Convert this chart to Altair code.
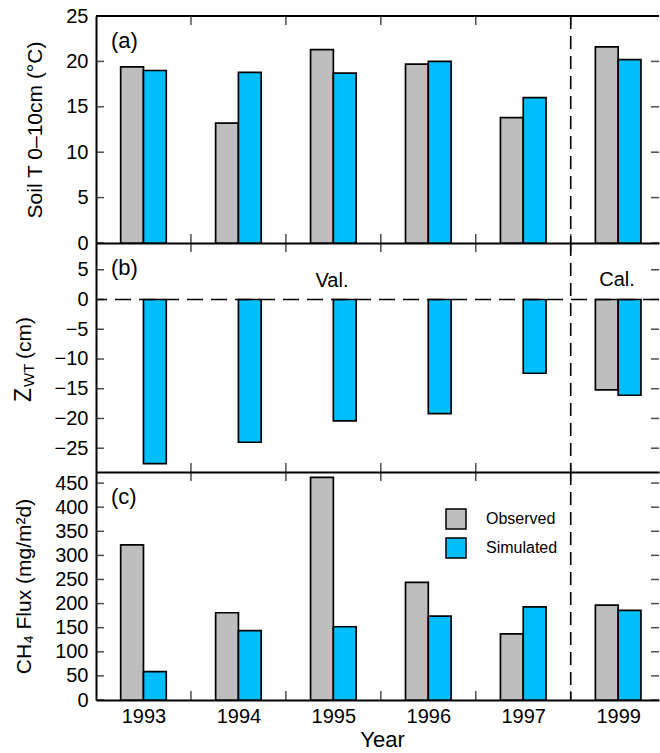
import json
import altair as alt
import pandas as pd

# ---------------- data ----------------
years = ["1993", "1994", "1995", "1996", "1997", "1999"]
series = ["Observed", "Simulated"]
colors = ["#BEBEBE", "#00BFFF"]

soil_obs = [19.4, 13.2, 21.3, 19.7, 13.8, 21.6]
soil_sim = [19.0, 18.8, 18.7, 20.0, 16.0, 20.2]
zwt_obs = [None, None, None, None, None, -15.2]
zwt_sim = [-27.6, -24.0, -20.4, -19.2, -12.4, -16.1]
ch4_obs = [322, 181, 462, 244, 137, 197]
ch4_sim = [59, 144, 152, 174, 193, 186]

soil_ticks = [0, 5, 10, 15, 20, 25]
zwt_ticks = [-25, -20, -15, -10, -5, 0, 5]
ch4_ticks = [0, 50, 100, 150, 200, 250, 300, 350, 400, 450]
year_ticks = [1.5, 2.5, 3.5, 4.5, 5.5]

soil_domain = [0, 25]
zwt_domain = [-29, 9.5]
ch4_domain = [0, 473]
x_domain = [0.5, 6.43]
split_at = 5.5  # Val. / Cal. boundary

FONT = "Liberation Sans"
W = 563
BAR = 0.24


def long_df(obs, sim):
    rows = []
    for i, y in enumerate(years):
        for s, vals in zip(series, [obs, sim]):
            v = vals[i]
            if v is not None:
                rows.append({"idx": i + 1, "year": y, "series": s, "value": v})
    return pd.DataFrame(rows)


def panel(obs, sim, ydomain, yticks, height, ytitle, label, bottom, legend, extra=None):
    xs = alt.Scale(domain=x_domain, nice=False, zero=False)
    ys = alt.Scale(domain=ydomain, nice=False, zero=False)
    if bottom:
        xaxis = alt.Axis(values=list(range(1, len(years) + 1)),
                         labelExpr=f"{json.dumps(years)}[datum.value - 1]",
                         title="Year", titleFontSize=22, titlePadding=3, titleX=286,
                         labelPadding=6, ticks=False, grid=False)
    else:
        xaxis = alt.Axis(labels=False, ticks=False, title=None, grid=False)
    yaxis = alt.Axis(values=yticks, title=ytitle, titlePadding=20, ticks=False,
                     grid=False, labelPadding=8)
    X = lambda f: alt.X(f, scale=xs, axis=xaxis)
    Y = lambda f: alt.Y(f, scale=ys, axis=yaxis)

    df = long_df(obs, sim)
    bars = alt.Chart(df).transform_calculate(
        x0=f"datum.series == 'Observed' ? datum.idx - {BAR} : datum.idx",
        x1=f"datum.series == 'Observed' ? datum.idx : datum.idx + {BAR}",
        zero="0",
    ).mark_bar(stroke="black", strokeWidth=1.7).encode(
        x=X("x0:Q"),
        x2="x1:Q",
        y=Y("value:Q"),
        y2="zero:Q",
        fill=alt.Fill("series:N", scale=alt.Scale(domain=series, range=colors), legend=legend),
    )

    ytick_df = pd.DataFrame([{"t": t, "edge": e} for t in yticks for e in x_domain])
    yt = alt.Chart(ytick_df).mark_tick(orient="horizontal", size=16, thickness=1.5,
                                       color="black", clip=True).encode(
        x=X("edge:Q"), y=Y("t:Q"))
    xtick_df = pd.DataFrame([{"t": t, "edge": e} for t in year_ticks for e in ydomain])
    xt = alt.Chart(xtick_df).mark_tick(orient="vertical", size=18, thickness=1.5,
                                       color="black", clip=True).encode(
        x=X("t:Q"), y=Y("edge:Q"))
    vline = alt.Chart(pd.DataFrame({"x": [split_at]})).mark_rule(
        strokeDash=[13, 7], strokeWidth=1.6, color="black").encode(x=X("x:Q"))
    lab = alt.Chart(pd.DataFrame({"t": [label]})).mark_text(
        font=FONT, fontSize=22, align="left", baseline="middle", color="black").encode(
        text="t:N", x=alt.value(15), y=alt.value(25))

    layers = [bars, yt, xt, vline, lab]
    if extra:
        layers = layers + extra(X, Y)
    return alt.layer(*layers).properties(width=W, height=height)


def extra_a(X, Y):
    top = alt.Chart(pd.DataFrame({"y": [soil_domain[1]]})).mark_rule(
        strokeWidth=2, color="black").encode(y=Y("y:Q"))
    return [top]


def txt(s, fs, x, y, align="left", angle=270, baseline="alphabetic"):
    return alt.Chart(pd.DataFrame({"t": [s]})).mark_text(
        font=FONT, fontSize=fs, angle=angle, align=align, baseline=baseline,
        color="black").encode(text="t:N", x=alt.value(x), y=alt.value(y))


def extra_b(X, Y):
    zero = alt.Chart(pd.DataFrame({"y": [0]})).mark_rule(
        strokeDash=[16, 8], strokeWidth=1.6, color="black").encode(y=Y("y:Q"))
    z1 = txt("Z", 23, -65, 159)
    z2 = txt("WT", 15, -62, 144)
    z3 = txt("(cm)", 21, -65, 116)
    val = txt("Val.", 20, 236, 38, align="center", angle=0, baseline="middle")
    cal = txt("Cal.", 20, 521, 37, align="center", angle=0, baseline="middle")
    return [zero, z1, z2, z3, val, cal]


legend_c = alt.Legend(orient="none", legendX=349, legendY=36, title=None,
                      symbolType="square", symbolSize=400, symbolStrokeColor="black",
                      symbolStrokeWidth=1.5, symbolOpacity=1, labelFont=FONT,
                      labelFontSize=16, labelColor="black", labelOffset=19,
                      rowPadding=3, padding=0)

pa = panel(soil_obs, soil_sim, soil_domain, soil_ticks, 227,
           "Soil T 0–10cm (°C)", "(a)", False, None, extra_a)
pb = panel(zwt_obs, zwt_sim, zwt_domain, zwt_ticks, 229,
           None, "(b)", False, None, extra_b)
pc = panel(ch4_obs, ch4_sim, ch4_domain, ch4_ticks, 228,
           "CH₄ Flux (mg/m²d)", "(c)", True, legend_c)

chart = alt.vconcat(pa, pb, pc, spacing=0, bounds="flush").resolve_scale(
    x="independent", y="independent", fill="independent"
).resolve_legend(fill="independent").properties(
    padding={"left": 13, "top": 6, "right": 0, "bottom": 0}
).configure_view(stroke=None).configure_axis(
    domainColor="black", domainWidth=2, labelColor="black", labelFont=FONT,
    labelFontSize=20, titleFont=FONT, titleFontSize=21, titleFontWeight="normal",
    titleColor="black", grid=False, labelFlush=False, labelOverlap=False,
)

chart.save("out.html", embed_options={"renderer": "svg", "actions": False})
